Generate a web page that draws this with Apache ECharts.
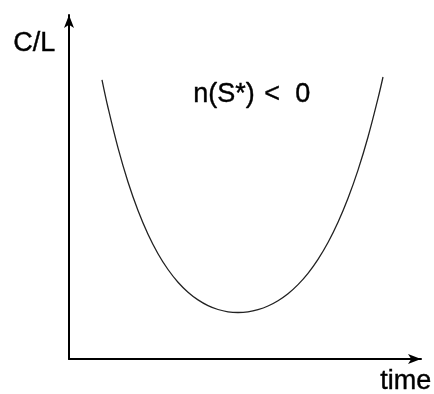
<!DOCTYPE html>
<html>
<head>
<meta charset="utf-8">
<script src="https://cdn.jsdelivr.net/npm/echarts@6/dist/echarts.min.js"></script>
<style>
  html, body { margin: 0; padding: 0; background: #fff; }
  #chart { width: 434px; height: 394px; }
</style>
</head>
<body>
<div id="chart"></div>
<script>
// Average cost per unit time against time: a U-shaped curve
const timeValues = [33, 39, 49, 59, 69, 79, 89, 99, 109, 119, 129, 139, 149, 159, 169,
                    179, 189, 199, 209, 219, 229, 239, 249, 259, 269, 279, 289, 299, 309, 314];
const costValues = [279.2, 251.5, 211.1, 177.0, 148.5, 124.8, 105.3, 89.5, 76.8, 66.8, 59.1, 53.4, 49.5, 47.2, 46.5,
                    47.2, 49.4, 53.0, 58.3, 65.3, 74.4, 85.7, 99.7, 116.5, 136.7, 160.7, 188.9, 222.0, 260.6, 282.0];
const yAxisLabel = 'C/L';
const xAxisLabel = 'time';
// note about the curve, in three spaced pieces: left side, relation, right side
const curveNote = ['n(S*)', '<', '0'];

const FONT = '"Liberation Sans", Arial, sans-serif';

const chart = echarts.init(document.getElementById('chart'), null, { renderer: 'canvas' });

const axisCommon = {
  type: 'value',
  min: 0,
  axisTick: { show: false },
  axisLabel: { show: false },
  splitLine: { show: false },
  axisLine: {
    show: true,
    onZero: false,
    symbol: ['none', 'arrow'],
    symbolSize: [7.5, 13],
    lineStyle: { color: '#000', width: 2 }
  }
};

// slightly heavy lettering
const textStyle = { font: '27px ' + FONT, fill: '#000', stroke: '#000', lineWidth: 0.4 };

chart.setOption({
  animation: false,
  backgroundColor: '#fff',
  grid: { left: 69, top: 15, width: 352, height: 344, containLabel: false },
  xAxis: Object.assign({}, axisCommon, { max: 352 }),
  yAxis: Object.assign({}, axisCommon, { max: 344 }),
  series: [{
    type: 'line',
    data: timeValues.map((t, i) => [t, costValues[i]]),
    smooth: 0.4,
    showSymbol: false,
    lineStyle: { color: '#222', width: 1.3 }
  }],
  graphic: [
    { type: 'text', left: 13, top: 30, style: Object.assign({ text: yAxisLabel }, textStyle) },
    { type: 'text', left: 380, top: 368, style: Object.assign({ text: xAxisLabel }, textStyle) },
    { type: 'text', left: 193, top: 81, style: Object.assign({ text: curveNote[0] }, textStyle) },
    { type: 'text', left: 264, top: 81, style: Object.assign({ text: curveNote[1] }, textStyle) },
    { type: 'text', left: 295, top: 81, style: Object.assign({ text: curveNote[2] }, textStyle) }
  ]
});
</script>
</body>
</html>
